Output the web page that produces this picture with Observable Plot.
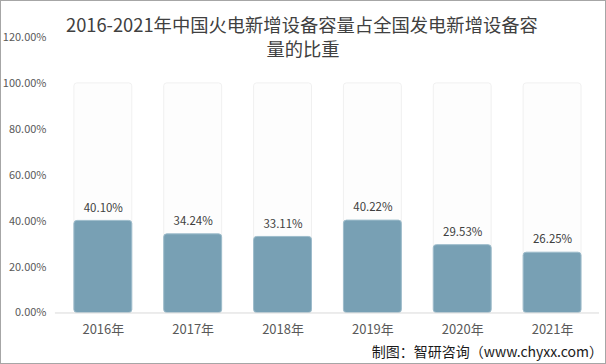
<!DOCTYPE html>
<html>
<head>
<meta charset="utf-8">
<script src="https://cdn.jsdelivr.net/npm/d3@7"></script>
<script src="https://cdn.jsdelivr.net/npm/@observablehq/plot@0.6"></script>
<style>
  html, body { margin: 0; padding: 0; background: #fff; }
  #wrap { position: relative; width: 606px; height: 364px; box-sizing: border-box; border: 1px solid #a6a6a6; overflow: hidden; font-family: "Noto Sans CJK SC", "Noto Sans", sans-serif; }
  #chart { position: absolute; left: -1px; top: -1px; }
  .tl { position: absolute; font-size: 16px; color: #404040; white-space: nowrap; line-height: 1; }
  #source { position: absolute; right: 2px; top: 340px; font-size: 14px; color: #1a1a1a; white-space: nowrap; }
</style>
</head>
<body>
<div id="wrap">
  <div id="chart"></div>
  <span class="tl" id="t1">2016-2021年中国火电新增设备容量占全国发电新增设备容</span>
  <span class="tl" id="t2">量的比重</span>
  <div id="source">制图：智研咨询（www.chyxx.com）</div>
</div>
<script>
const years = ["2016年", "2017年", "2018年", "2019年", "2020年", "2021年"];
const shares = [0.4010, 0.3424, 0.3311, 0.4022, 0.2953, 0.2625];
const yTicks = [0, 0.2, 0.4, 0.6, 0.8, 1.0, 1.2];

const data = years.map((y, i) => ({year: y, value: shares[i], full: 1}));

const chart = Plot.plot({
  width: 606,
  height: 364,
  marginTop: 37,
  marginBottom: 51,
  marginLeft: 55,
  marginRight: 6,
  style: {fontFamily: "'Noto Sans CJK SC', sans-serif", background: "transparent"},
  x: {domain: years, paddingInner: 0.36, paddingOuter: 0.18, label: null, tickSize: 0, tickPadding: 12},
  y: {domain: [0, 1.2], ticks: yTicks, tickFormat: d => (d * 100).toFixed(2) + "%", label: null, tickSize: 0, tickPadding: 9},
  marks: [
    Plot.barY(data, {x: "year", y: "full", fill: "#fdfdfd", stroke: "#f0f0f0", strokeWidth: 1, rx: 3}),
    Plot.barY(data, {x: "year", y: "value", fill: "#78a0b4", stroke: "#9dbccb", strokeWidth: 1, rx: 3}),
    Plot.ruleY([0], {stroke: "#d9d9d9"}),
    Plot.text(data, {x: "year", y: "value", text: d => (d.value * 100).toFixed(2) + "%", dy: -13, fontSize: 11.5, fill: "#404040"})
  ]
});

chart.querySelectorAll("[aria-label='y-axis tick label'] text").forEach(t => { t.setAttribute("fill", "#595959"); t.style.fontSize = "11px"; });
chart.querySelectorAll("[aria-label='x-axis tick label'] text").forEach(t => { t.setAttribute("fill", "#595959"); t.style.fontSize = "13px"; });
document.getElementById("chart").appendChild(chart);

// title fitting: line 1 spans x 66..538, line 2 centred at x 303
const t1 = document.getElementById("t1"), t2 = document.getElementById("t2");
const w0 = t1.getBoundingClientRect().width;
const fs = 16 * 472 / w0;
t1.style.fontSize = fs + "px"; t2.style.fontSize = fs + "px";
const w2 = t2.getBoundingClientRect().width;
t1.style.left = (66 - 1) + "px"; t1.style.top = (24 - 1 - fs / 2) + "px";
t2.style.left = (303 - 1 - w2 / 2) + "px"; t2.style.top = (48.5 - 1 - fs / 2) + "px";
</script>
</body>
</html>
